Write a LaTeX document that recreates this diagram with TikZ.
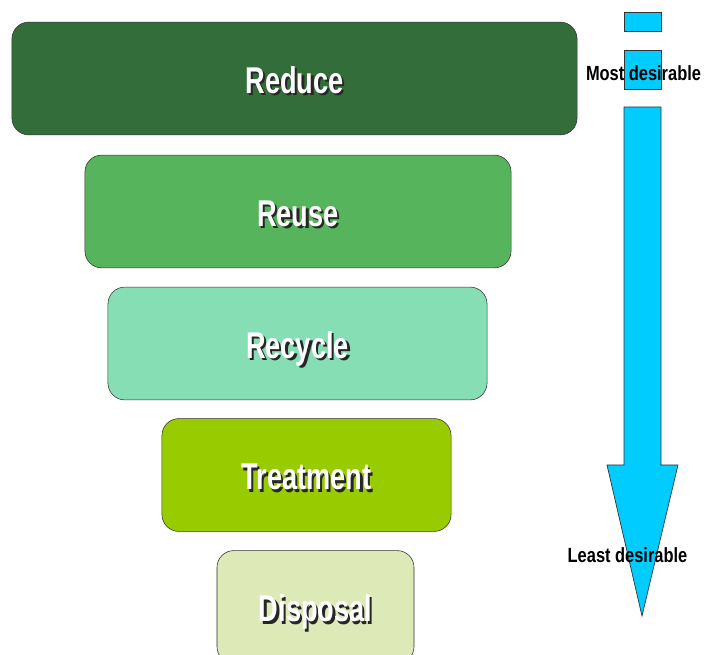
\documentclass[tikz,border=0pt]{standalone}
\usepackage{fontspec}
\usepackage{xcolor}
\usetikzlibrary{positioning}
\newfontfamily\tierfont[FakeStretch=0.73]{Liberation Sans}
\newfontfamily\sidefont[FakeStretch=0.8]{Liberation Sans}

\definecolor{reducegreen}{RGB}{51,110,58}
\definecolor{reusegreen}{RGB}{86,180,92}
\definecolor{recyclemint}{RGB}{134,223,180}
\definecolor{treatlime}{RGB}{153,204,0}
\definecolor{disposalpale}{RGB}{221,233,183}
\definecolor{arrowcyan}{RGB}{0,204,255}

% white label with a dark drop shadow, baseline fixed below the centre
\newcommand{\shtext}[1]{\smash{\raisebox{-10.5pt}{\makebox[0pt][l]{\raisebox{-1.6pt}{\hspace{1.6pt}\color{black!85}#1}}\color{white}#1}}}

\tikzset{
  tier/.style={draw=black!80,rectangle,rounded corners=12pt,minimum height=2.82cm,inner sep=0pt,
    font=\tierfont\bfseries\fontsize{26.5}{30}\selectfont},
  sidelbl/.style={font=\sidefont\bfseries\fontsize{14.6}{16}\selectfont,text=black,inner sep=0pt},
  rank/.style={draw=black!80,fill=arrowcyan,line width=0.5pt}
}

\begin{document}
\begin{tikzpicture}[x=0.025cm,y=-0.025cm]
  \useasboundingbox (0,0) rectangle (704,655);

  % Hierarchy tiers
  \node[tier, fill=reducegreen, minimum width=14.125cm] (reduce) at (294.5,78.5) {\shtext{Reduce}};
  \node[tier, fill=reusegreen, minimum width=10.65cm] (reuse) at (298,211.5) {\shtext{Reuse}};
  \node[tier, fill=recyclemint, minimum width=9.475cm] (recycle) at (297.5,343.5) {\shtext{Recycle}};
  \node[tier, fill=treatlime, minimum width=7.225cm] (treat) at (306.5,475) {\shtext{Treatment}};
  \node[tier, fill=disposalpale, minimum width=4.925cm] (disposal) at (315.5,607) {\shtext{Disposal}};

  % Preference arrow
  \draw[rank] (624,12) rectangle (661,31);
  \draw[rank] (624,50) rectangle (661,89);
  \draw[rank] (624,107) -- (661,107) -- (661,465) -- (678,465) -- (642,616)
    -- (607,465) -- (624,465) -- cycle;

  \node[sidelbl] (most) at (643.5,73) {Most desirable};
  \node[sidelbl] (least) at (627.5,555) {Least desirable};
\end{tikzpicture}
\end{document}
